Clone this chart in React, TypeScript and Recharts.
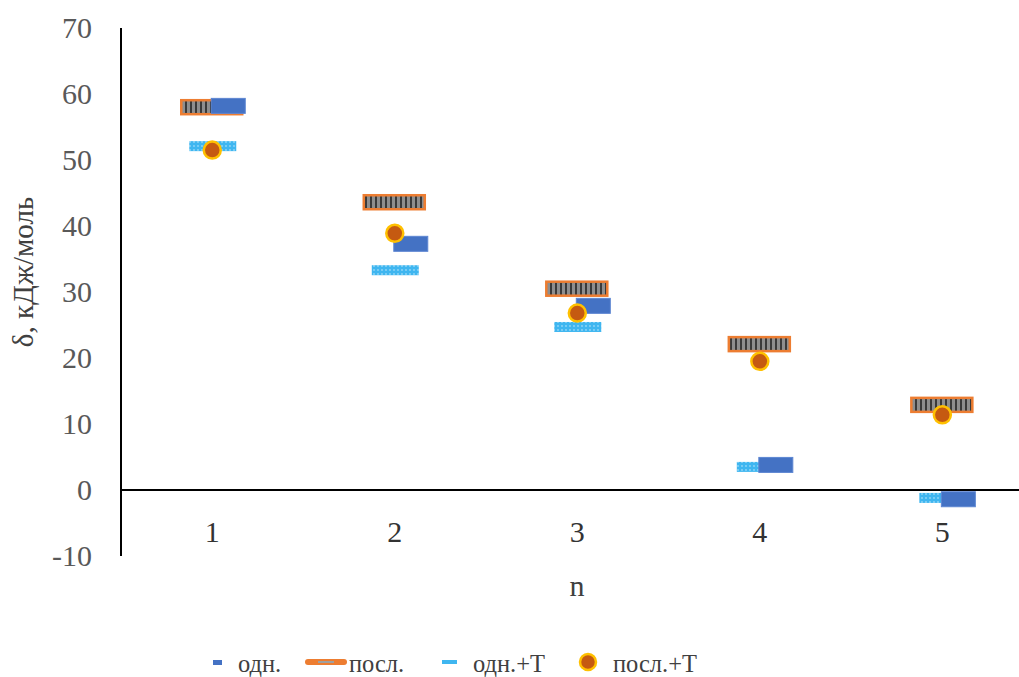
import { useEffect } from "react"
import { ScatterChart, Scatter, XAxis, YAxis, ReferenceLine } from "recharts"

// n = 1..5, δ in kJ/mol
const nValues = [1, 2, 3, 4, 5]
const odn = [58.2, 37.3, 27.9, 3.8, -1.4]
const posl = [58.0, 43.6, 30.5, 22.1, 12.9]
const odnT = [52.1, 33.3, 24.7, 3.5, -1.2]
const poslT = [51.5, 38.9, 26.8, 19.5, 11.4]
const yTicks = [-10, 0, 10, 20, 30, 40, 50, 60, 70]
const seriesNames = ["одн.", "посл.", "одн.+T", "посл.+T"]

const toPoints = (vals: number[]) => nValues.map((n, i) => ({ n, v: vals[i] }))

const FONT = '"Liberation Serif", "DejaVu Serif", serif'

const Patterns = () => (
  <defs>
    <pattern id="hatch" width="5" height="14" patternUnits="userSpaceOnUse">
      <rect width="5" height="14" fill="#8e8e8e" />
      <rect width="2" height="14" fill="#3a3a3a" />
    </pattern>
    <pattern id="dots" width="4" height="4" patternUnits="userSpaceOnUse">
      <rect width="4" height="4" fill="#3fb6f0" />
      <circle cx="2" cy="2" r="0.9" fill="#93d8f8" />
    </pattern>
  </defs>
)

const OdnShape = (props: any) => {
  const { cx, cy } = props
  return <rect x={cx - 1} y={cy - 7.5} width={34} height={15} fill="#4472c4" stroke="#5d86d2" strokeWidth={1} />
}

const PoslShape = (props: any) => {
  const { cx, cy } = props
  return (
    <g>
      <Patterns />
      <rect x={cx - 31} y={cy - 7} width={61} height={14} fill="url(#hatch)" stroke="#ed7d31" strokeWidth={2.5} />
    </g>
  )
}

const OdnTShape = (props: any) => {
  const { cx, cy } = props
  return (
    <g>
      <Patterns />
      <rect x={cx - 23} y={cy - 5} width={47} height={10} fill="url(#dots)" />
    </g>
  )
}

const PoslTShape = (props: any) => {
  const { cx, cy } = props
  return <circle cx={cx} cy={cy} r={8.5} fill="#c55a11" stroke="#ffc000" strokeWidth={2.5} />
}

const XTick = (props: any) => {
  const { x, payload } = props
  return (
    <text x={x} y={542} textAnchor="middle" fontSize={30} style={{ fontFamily: FONT }} fill="#333333">
      {payload.value}
    </text>
  )
}

const YTick = (props: any) => {
  const { y, payload } = props
  return (
    <text x={92} y={y + 10} textAnchor="end" fontSize={30} style={{ fontFamily: FONT }} fill="#595959">
      {payload.value}
    </text>
  )
}

const YTitle = () => (
  <text
    x={33}
    y={272}
    transform="rotate(-90 33 272)"
    textAnchor="middle"
    fontSize={29}
    style={{ fontFamily: FONT }}
    fill="#404040"
  >
    δ, кДж/моль
  </text>
)

const XTitle = () => (
  <text x={577} y={596} textAnchor="middle" fontSize={30} style={{ fontFamily: FONT }} fill="#404040">
    n
  </text>
)

function LegendRow() {
  const textStyle = { fontSize: 24.5, fill: "#404040", style: { fontFamily: FONT } }
  return (
    <svg width={1019} height={40} style={{ position: "absolute", left: 0, top: 643 }}>
      <rect x={213} y={17} width={9} height={5} fill="#4472c4" />
      <text x={238} y={29} {...textStyle}>{seriesNames[0]}</text>
      <rect x={305} y={16} width={42} height={6} rx={3} fill="#ed7d31" />
      <rect x={318} y={18} width={16} height={2} fill="#a0a0a0" />
      <text x={349} y={29} {...textStyle}>{seriesNames[1]}</text>
      <rect x={442} y={17} width={15} height={4} fill="#3fb6f0" />
      <text x={473} y={29} {...textStyle}>{seriesNames[2]}</text>
      <circle cx={588} cy={19} r={8} fill="#c55a11" stroke="#ffc000" strokeWidth={2.5} />
      <text x={613} y={29} {...textStyle}>{seriesNames[3]}</text>
    </svg>
  )
}

export default function App() {
  useEffect(() => {
    document.body.style.margin = "0"
  }, [])

  return (
    <div style={{ position: "relative", width: 1019, height: 677, background: "#fff" }}>
      <ScatterChart width={1019} height={677} margin={{ top: 28, right: 0, bottom: 0, left: 0 }}>
        <XAxis
          type="number"
          dataKey="n"
          domain={[0.5, 5.42]}
          allowDataOverflow
          ticks={nValues}
          axisLine={false}
          tickLine={false}
          height={121}
          tick={<XTick />}
          label={<XTitle />}
        />
        <YAxis
          type="number"
          dataKey="v"
          domain={[-10, 70]}
          ticks={yTicks}
          width={121}
          axisLine={{ stroke: "#000", strokeWidth: 2 }}
          tickLine={false}
          tick={<YTick />}
          label={<YTitle />}
        />
        <ReferenceLine y={0} stroke="#000" strokeWidth={2} />
        <Scatter name={seriesNames[1]} data={toPoints(posl)} shape={<PoslShape />} isAnimationActive={false} />
        <Scatter name={seriesNames[2]} data={toPoints(odnT)} shape={<OdnTShape />} isAnimationActive={false} />
        <Scatter name={seriesNames[0]} data={toPoints(odn)} shape={<OdnShape />} isAnimationActive={false} />
        <Scatter name={seriesNames[3]} data={toPoints(poslT)} shape={<PoslTShape />} isAnimationActive={false} />
      </ScatterChart>
      <LegendRow />
    </div>
  )
}
